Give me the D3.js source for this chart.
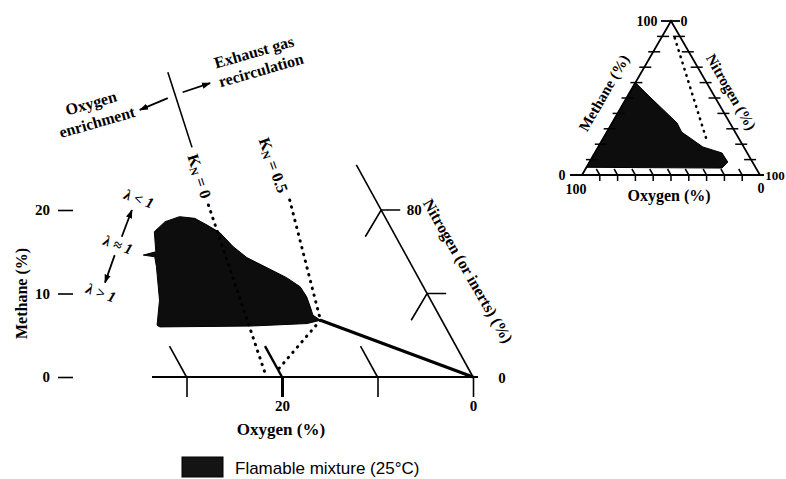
<!DOCTYPE html>
<html>
<head>
<meta charset="utf-8">
<script src="https://cdn.jsdelivr.net/npm/d3@7"></script>
<style>
  body { margin: 0; background: #fff; }
  svg text { font-family: "Liberation Serif", "Times New Roman", serif; font-weight: bold; fill: #000; }
</style>
</head>
<body>
<svg id="chart" width="786" height="479"></svg>
<script>
// Main diagram data: oxygen (%) along the base, methane (%) up the side
const o2Ticks = [30, 20, 10, 0]
const o2TickLabels = ["", "20", "", "0"]
const ch4Ticks = [0, 10, 20]
const n2Ticks = [90, 80]
const n2TickLabels = ["", "80"]

// flammable region outline (oxygen %, methane %)
const flamO2  = [27.5, 26.4, 26.8, 28.4, 30.1, 29.9, 20.4, 14.3, 12.7, 13.2, 13.0, 12.8, 12.9, 13.8, 15.3, 16.8, 17.6, 18.2, 19.1, 20.0, 21.5, 23.3, 25.0, 26.0]
const flamCH4 = [14.6, 14.4, 13.2, 9.2, 6.2, 6.0, 6.1, 6.4, 6.8, 7.4, 8.4, 9.6, 10.8, 11.9, 13.1, 14.3, 15.6, 17.3, 18.2, 19.0, 19.2, 18.6, 17.4, 15.0]

// lines (pairs of oxygen %, methane %)
const noseLine   = [[12.7, 6.8], [0, 0]]
const noseDotted = [[12.7, 6.8], [20.1, 0.8]]
const kn05Dotted = [[9.0, 21.2], [12.7, 6.8]]
const kn0Dotted  = [[17.8, 20.6], [21.6, 0.2]]
const kn0Solid   = [[14.4, 36.5], [16.2, 27.5]]
const n2AxisLine = [[0, 0], [0, 25.4]]
const arrowEnrich = [[15.9, 33.4], [19.5, 32.0]]
const arrowEGR    = [[14.0, 34.1], [10.6, 35.2]]
const arrowRich   = [[28.7, 16.8], [26.1, 20.0]]
const arrowLean   = [[30.5, 14.6], [33.1, 11.3]]

// Inset ternary data (methane %, nitrogen %)
const triTicks = [10, 20, 30, 40, 50, 60, 70, 80, 90]
const insetFlamCH4 = [5, 60, 50.6, 33.8, 27.9, 18.2, 14.3, 8.4, 4.5]
const insetFlamN2  = [0, 0, 12.9, 36.5, 42.0, 58.8, 71.5, 77.7, 76.4]
const insetAirCH4 = [89, 21]
const insetAirN2  = [7.6, 60]

var svg = d3.select("#chart")

// Scales for the main diagram
const xO = d3.scaleLinear().domain([0, 30]).range([473, 186.5])
const yM = d3.scaleLinear().domain([0, 20]).range([377, 210])
const skew = 0.55
const P = (o, m) => [xO(o) - skew * (yM(0) - yM(m)), yM(m)]
const line = d3.line().x(d => P(d[0], d[1])[0]).y(d => P(d[0], d[1])[1])

// arrow head marker
svg.append("defs").append("marker")
    .attr("id", "arr").attr("viewBox", "0 0 10 10")
    .attr("refX", 9).attr("refY", 5)
    .attr("markerWidth", 5).attr("markerHeight", 5)
    .attr("orient", "auto-start-reverse")
  .append("path").attr("d", "M0,1.5L10,5L0,8.5z").attr("fill", "#000")

// flammable region
svg.append("path")
    .datum(flamO2.map((o, i) => [o, flamCH4[i]]))
    .attr("d", d => line(d) + "Z")
    .attr("fill", "#0d0d0d")
    .attr("stroke", "#000").attr("stroke-width", 1)

// oxygen axis
svg.append("line")
    .attr("x1", 152).attr("x2", 478)
    .attr("y1", yM(0)).attr("y2", yM(0))
    .attr("stroke", "#000").attr("stroke-width", 2)

var xAxis = svg.append("g")
    .attr("transform", `translate(0,${yM(0)})`)
    .call(d3.axisBottom(xO).tickValues(o2Ticks).tickSize(20).tickPadding(3)
        .tickFormat((d, i) => o2TickLabels[i]))
xAxis.select(".domain").remove()
xAxis.selectAll(".tick line").attr("stroke", "#000").attr("stroke-width", d => d === 20 ? 3 : 1.6)
xAxis.selectAll(".tick text").attr("font-size", 15).attr("font-family", null)

// constant oxygen stubs above the axis
svg.selectAll(".o2stub").data(o2Ticks.filter(d => d > 0)).join("path")
    .attr("class", "o2stub")
    .attr("d", d => line([[d, 0], [d, 3.7]]))
    .attr("stroke", "#000").attr("stroke-width", d => d === 20 ? 2.4 : 1.6).attr("fill", "none")

// methane ticks
var yAxis = svg.append("g")
    .attr("transform", "translate(73,0)")
    .call(d3.axisLeft(yM).tickValues(ch4Ticks).tickSize(15).tickPadding(8))
yAxis.select(".domain").remove()
yAxis.selectAll(".tick line").attr("stroke", "#000").attr("stroke-width", 1.6)
yAxis.selectAll(".tick text").attr("font-size", 15).attr("font-family", null).attr("font-weight", "normal")

svg.append("text")
    .attr("transform", `translate(21,${yM(10)}) rotate(-90)`)
    .attr("text-anchor", "middle").attr("dominant-baseline", "central")
    .attr("font-size", 16)
    .text("Methane (%)")

svg.append("text")
    .attr("x", 281).attr("y", 429)
    .attr("text-anchor", "middle").attr("dominant-baseline", "central")
    .attr("font-size", 17)
    .text("Oxygen (%)")

// nitrogen axis along the zero-oxygen line
svg.append("path").attr("d", line(n2AxisLine))
    .attr("stroke", "#000").attr("stroke-width", 1.6).attr("fill", "none")
svg.selectAll(".n2tick").data(n2Ticks).join("path")
    .attr("class", "n2tick")
    .attr("d", d => line([[-2, 100 - d], [0, 100 - d], [3.2, 100 - d - 3.2]]))
    .attr("stroke", "#000").attr("stroke-width", 1.6).attr("fill", "none")
svg.selectAll(".n2lab").data(n2Ticks).join("text")
    .attr("class", "n2lab")
    .attr("x", d => P(-2, 100 - d)[0] + 14)
    .attr("y", d => P(-2, 100 - d)[1])
    .attr("text-anchor", "middle").attr("dominant-baseline", "central")
    .attr("font-size", 15)
    .text((d, i) => n2TickLabels[i])
svg.append("text")
    .attr("x", P(0, 0)[0] + 29).attr("y", yM(0) + 1)
    .attr("text-anchor", "middle").attr("dominant-baseline", "central")
    .attr("font-size", 15)
    .text("0")
svg.append("text")
    .attr("transform", "translate(468,271) rotate(60)")
    .attr("text-anchor", "middle").attr("dominant-baseline", "central")
    .attr("font-size", 16)
    .text("Nitrogen (or inerts) (%)")

// solid line from nose to the corner
svg.append("path").attr("d", line(noseLine))
    .attr("stroke", "#000").attr("stroke-width", 3.2).attr("fill", "none")

// dotted lines
svg.selectAll(".dotted").data([noseDotted, kn05Dotted, kn0Dotted]).join("path")
    .attr("class", "dotted")
    .attr("d", d => line(d))
    .attr("stroke", "#000").attr("stroke-width", 3)
    .attr("stroke-linecap", "round").attr("stroke-dasharray", "0.5,6.5")
    .attr("fill", "none")

svg.append("path").attr("d", line(kn0Solid))
    .attr("stroke", "#000").attr("stroke-width", 1.6).attr("fill", "none")

// arrows
svg.selectAll(".arrow").data([arrowEnrich, arrowEGR, arrowRich, arrowLean]).join("path")
    .attr("class", "arrow")
    .attr("d", d => line(d))
    .attr("stroke", "#000").attr("stroke-width", 1.8).attr("fill", "none")
    .attr("marker-end", "url(#arr)")

// K_N labels
function knLabel(x, y, angle, value) {
    var t = svg.append("text")
        .attr("transform", `translate(${x},${y}) rotate(${angle})`)
        .attr("text-anchor", "middle").attr("dominant-baseline", "central")
        .attr("font-size", 16)
    t.append("tspan").text("K")
    t.append("tspan").attr("font-size", 11).attr("dy", 4).text("N")
    t.append("tspan").attr("dy", -4).text(" = " + value)
}
knLabel(200, 176, 72, "0")
knLabel(274, 165, 70, "0.5")

// lambda labels
function lamLabel(x, y, s) {
    svg.append("text")
        .attr("transform", `translate(${x},${y}) rotate(20)`)
        .attr("text-anchor", "middle").attr("dominant-baseline", "central")
        .attr("font-size", 15).attr("font-style", "italic")
        .text(s)
}
lamLabel(139, 199, "λ < 1")
lamLabel(118, 245, "λ ≈ 1")
lamLabel(101, 293, "λ > 1")

// annotations at the top
function rotLabel(x, y, s) {
    svg.append("text")
        .attr("transform", `translate(${x},${y}) rotate(-16)`)
        .attr("text-anchor", "middle").attr("dominant-baseline", "central")
        .attr("font-size", 16)
        .text(s)
}
rotLabel(91, 103, "Oxygen")
rotLabel(97, 122, "enrichment")
rotLabel(254, 52, "Exhaust gas")
rotLabel(261, 70, "recirculation")

// legend
svg.append("rect")
    .attr("x", 182).attr("y", 457).attr("width", 41).attr("height", 20)
    .attr("fill", "#141414").attr("stroke", "#000")
svg.append("text")
    .attr("x", 235).attr("y", 468)
    .attr("dominant-baseline", "central")
    .attr("font-size", 17)
    .style("font-family", "'Liberation Sans', Arial, sans-serif").style("font-weight", "normal")
    .text("Flamable mixture (25°C)")

// ---- Inset ternary diagram ----
const triX = d3.scaleLinear().domain([0, 100]).range([582, 760])
const triY = d3.scaleLinear().domain([0, 100]).range([175, 21])
const T = (c, n) => [triX(n + c / 2), triY(c)]
const tline = d3.line().x(d => T(d[0], d[1])[0]).y(d => T(d[0], d[1])[1])

svg.append("path")
    .datum(insetFlamCH4.map((c, i) => [c, insetFlamN2[i]]))
    .attr("d", d => tline(d) + "Z")
    .attr("fill", "#0d0d0d").attr("stroke", "#000")

svg.append("path")
    .attr("d", tline([[0, 0], [100, 0], [0, 100]]) + "Z")
    .attr("stroke", "#000").attr("stroke-width", 1.8).attr("fill", "none")
svg.append("line")
    .attr("x1", triX(0) - 12).attr("x2", triX(100) + 4)
    .attr("y1", triY(0)).attr("y2", triY(0))
    .attr("stroke", "#000").attr("stroke-width", 1.8)
svg.append("line")
    .attr("x1", triX(50) - 10).attr("x2", triX(50) + 9)
    .attr("y1", triY(100)).attr("y2", triY(100))
    .attr("stroke", "#000").attr("stroke-width", 1.8)

// ticks on each edge
svg.selectAll(".tl").data(triTicks).join("line")
    .attr("class", "tl")
    .attr("x1", d => T(d, 0)[0] - 5).attr("x2", d => T(d, 0)[0] + 7)
    .attr("y1", d => T(d, 0)[1]).attr("y2", d => T(d, 0)[1])
    .attr("stroke", "#000").attr("stroke-width", 1.5)
svg.selectAll(".tr").data(triTicks).join("line")
    .attr("class", "tr")
    .attr("x1", d => T(100 - d, d)[0] - 7).attr("x2", d => T(100 - d, d)[0] + 5)
    .attr("y1", d => T(100 - d, d)[1]).attr("y2", d => T(100 - d, d)[1])
    .attr("stroke", "#000").attr("stroke-width", 1.5)
svg.selectAll(".tb").data(triTicks).join("path")
    .attr("class", "tb")
    .attr("d", d => {
        var p = T(0, d)
        return `M${p[0]},${p[1] + 6}L${p[0]},${p[1]}L${p[0] - 3.5},${p[1] - 6}`
    })
    .attr("stroke", "#000").attr("stroke-width", 1.5).attr("fill", "none")

// air mixing line
svg.append("path")
    .attr("d", tline(insetAirCH4.map((c, i) => [c, insetAirN2[i]])))
    .attr("stroke", "#000").attr("stroke-width", 2.6)
    .attr("stroke-linecap", "round").attr("stroke-dasharray", "0.5,6")
    .attr("fill", "none")

function triText(x, y, s, size, angle) {
    svg.append("text")
        .attr("transform", `translate(${x},${y}) rotate(${angle || 0})`)
        .attr("text-anchor", "middle").attr("dominant-baseline", "central")
        .attr("font-size", size)
        .text(s)
}
triText(T(100, 0)[0] - 24, T(100, 0)[1], "100", 14)
triText(T(100, 0)[0] + 13, T(100, 0)[1], "0", 14)
triText(T(0, 0)[0] - 20, T(0, 0)[1], "0", 14)
triText(T(0, 0)[0] - 6, T(0, 0)[1] + 14, "100", 14)
triText(T(0, 100)[0] + 15, T(0, 100)[1], "100", 13)
triText(T(0, 100)[0] + 1, T(0, 100)[1] + 13, "0", 14)
triText(669, 195, "Oxygen (%)", 16)
triText(604, 93, "Methane (%)", 15, -60)
triText(731, 92, "Nitrogen (%)", 15, 60)
</script>
</body>
</html>
